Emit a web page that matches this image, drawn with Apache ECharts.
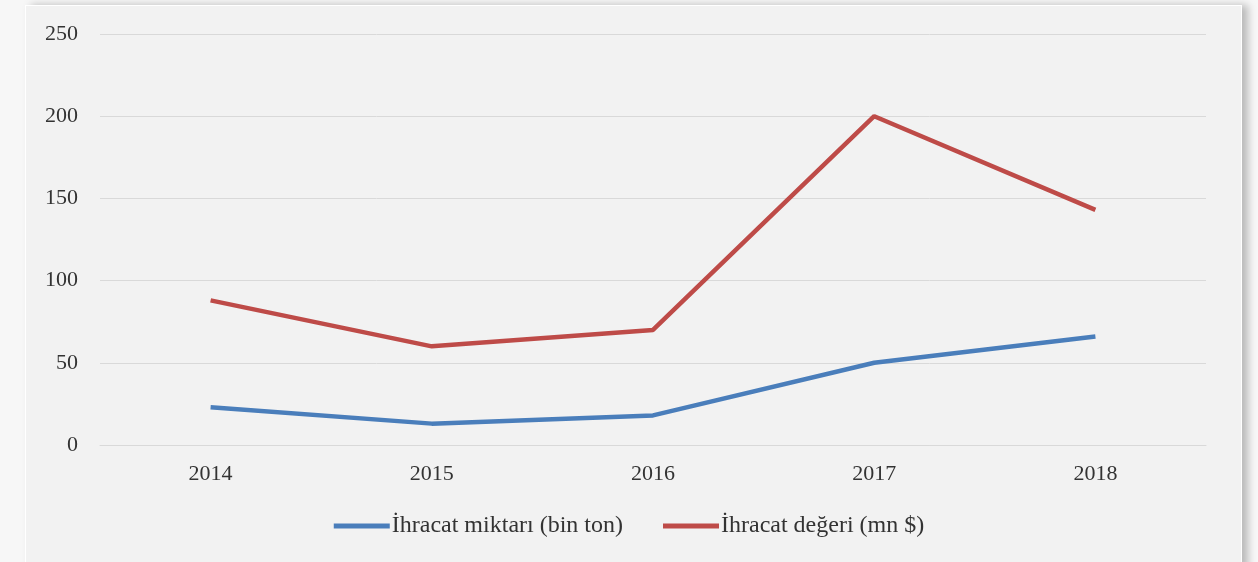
<!DOCTYPE html>
<html>
<head>
<meta charset="utf-8">
<script src="https://cdn.jsdelivr.net/npm/echarts@6/dist/echarts.min.js"></script>
<style>
html,body{margin:0;padding:0;width:1258px;height:562px;background:#f7f7f7;overflow:hidden;}
#panel{position:absolute;left:25px;top:5px;width:1215px;height:562px;background:#f2f2f2;border:1px solid #ffffff;box-shadow:6px 0 8px rgba(0,0,0,0.25);}
#chart{position:absolute;left:0;top:0;width:1258px;height:562px;}
</style>
</head>
<body>
<div id="panel"></div>
<div id="chart"></div>
<script>
const categories = ['2014', '2015', '2016', '2017', '2018'];
const seriesNames = ['İhracat miktarı (bin ton)', 'İhracat değeri (mn $)'];
const miktar = [23, 13, 18, 50, 66];
const deger = [88, 60, 70, 200, 143];
const yTicks = [0, 50, 100, 150, 200, 250];

const chart = echarts.init(document.getElementById('chart'), null, {renderer: 'canvas'});
const font = '"Liberation Serif", "Times New Roman", serif';
chart.setOption({
  backgroundColor: 'transparent',
  animation: false,
  grid: {left: 100, right: 52, top: 34, bottom: 117, containLabel: false},
  legend: {
    bottom: 19, left: 'center',
    itemWidth: 56, itemHeight: 5, itemGap: 40,
    icon: 'rect',
    textStyle: {fontFamily: font, fontSize: 24, color: '#333333', padding: [0,0,0,-3]},
    data: seriesNames
  },
  xAxis: {
    type: 'category', data: categories, boundaryGap: true,
    axisLine: {show: true, lineStyle: {color: '#d9d9d9', width: 1}},
    axisTick: {show: false},
    axisLabel: {fontFamily: font, fontSize: 22, color: '#333333', margin: 18}
  },
  yAxis: {
    type: 'value', min: yTicks[0], max: yTicks[yTicks.length-1], interval: 50,
    axisLine: {show: false}, axisTick: {show: false},
    splitLine: {lineStyle: {color: '#d9d9d9', width: 1}},
    axisLabel: {fontFamily: font, fontSize: 22, color: '#333333', margin: 22, align: 'right'}
  },
  series: [
    {name: seriesNames[0], type: 'line', data: miktar, symbol: 'none',
     lineStyle: {color: '#4a7ebb', width: 4.5}, itemStyle: {color: '#4a7ebb'}},
    {name: seriesNames[1], type: 'line', data: deger, symbol: 'none',
     lineStyle: {color: '#be4b48', width: 4.5}, itemStyle: {color: '#be4b48'}}
  ]
});
</script>
</body>
</html>
